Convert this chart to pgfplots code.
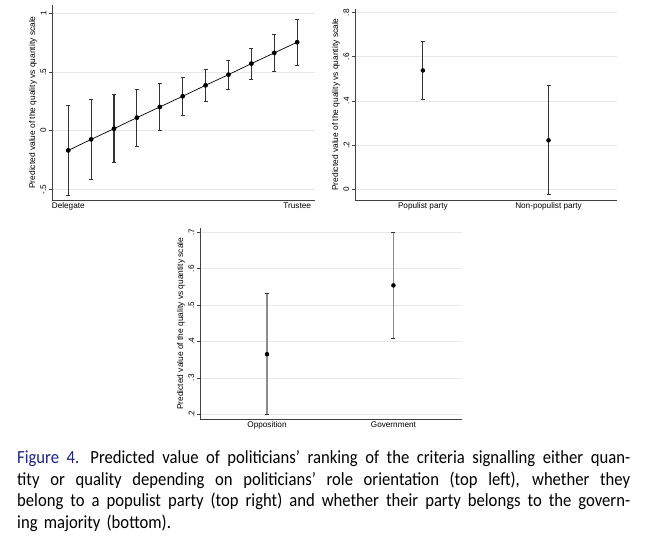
\documentclass[border=0pt]{standalone}
\usepackage{pgfplots}
\pgfplotsset{compat=1.18}
\usepackage{fontspec}
\setmainfont{Liberation Sans}
\newfontfamily\capfont[FakeStretch=0.9]{Carlito}
\definecolor{capblue}{RGB}{30,36,120}
\definecolor{gridgray}{RGB}{232,232,232}

\pgfplotsset{
  stata/.style={
    scale only axis,
    clip=false,
    axis x line*=bottom,
    axis y line*=left,
    axis line style={black!75, line width=0.8bp, -},
    ymajorgrids,
    grid style={gridgray, line width=0.6bp},
    xtick style={draw=none},
    ytick style={black!75, line width=0.6bp},
    tick align=outside,
    major tick length=3bp,
    tick label style={font=\fontsize{8.2bp}{9bp}\selectfont},
    yticklabel style={rotate=90, anchor=south, inner sep=2.5bp},
    xticklabel style={anchor=north, inner sep=0pt, yshift=0.5bp},
    ylabel={Predicted value of the quality vs quantity scale},
    every axis y label/.style={at={([xshift=-19bp]axis description cs:0,0.5)},
      rotate=90, anchor=center, font=\fontsize{8.4bp}{9bp}\selectfont},
  },
  ci/.style={
    black, mark=*, mark size=2bp,
    error bars/y dir=both,
    error bars/y explicit,
    error bars/error bar style={line width=1.1bp, #1},
    error bars/error mark options={rotate=90, line width=0.9bp, mark size=2bp, black!80},
  },
}

\pgfplotstableread{
x  y       ep     em
0  -0.168  0.387  0.383
1  -0.074  0.338  0.338
2   0.017  0.290  0.290
3   0.111  0.241  0.245
4   0.202  0.201  0.202
5   0.293  0.162  0.165
6   0.386  0.134  0.139
7   0.477  0.122  0.125
8   0.571  0.131  0.136
9   0.662  0.159  0.159
10  0.753  0.196  0.196
}\roletable

\pgfplotstableread{
x  y      ep     em
0  0.538  0.130  0.130
1  0.221  0.249  0.248
}\populisttable

\pgfplotstableread{
x  y      ep     em
0  0.365  0.166  0.165
1  0.554  0.146  0.146
}\majoritytable

\newcommand\capline[1]{\makebox[613bp][s]{\spaceskip=0.22em plus 1em minus 0.05em #1}}

\begin{document}
\begin{tikzpicture}[x=1bp, y=1bp]
\path[use as bounding box] (0,0) rectangle (647,537);

% top left: role orientation
\begin{axis}[stata,
  at={(52bp,337bp)}, anchor=south west,
  width=263bp, height=195bp,
  xmin=-0.71, xmax=10.78,
  ymin=-0.59, ymax=1.07,
  xtick={0,10}, xticklabels={Delegate,Trustee},
  ytick={-0.5,0,0.5,1}, yticklabels={-.5,0,.5,1},
]
\addplot[ci=black!80, line width=0.7bp]
  table[x=x, y=y, y error plus=ep, y error minus=em]{\roletable};
\end{axis}

% top right: populist party
\begin{axis}[stata,
  at={(355bp,337bp)}, anchor=south west,
  width=262bp, height=191bp,
  xmin=-0.54, xmax=1.545,
  ymin=-0.05, ymax=0.817,
  xtick={0,1}, xticklabels={Populist party,Non-populist party},
  ytick={0,0.2,0.4,0.6,0.8}, yticklabels={0,.2,.4,.6,.8},
]
\addplot[ci=black!80, only marks]
  table[x=x, y=y, y error plus=ep, y error minus=em]{\populisttable};
\end{axis}

% bottom: governing majority
\begin{axis}[stata,
  at={(200bp,117.7bp)}, anchor=south west,
  width=261.7bp, height=191bp,
  xmin=-0.53, xmax=1.54,
  ymin=0.186, ymax=0.711,
  xtick={0,1}, xticklabels={Opposition,Government},
  ytick={0.2,0.3,0.4,0.5,0.6,0.7}, yticklabels={.2,.3,.4,.5,.6,.7},
]
\addplot[ci=black!45, only marks]
  table[x=x, y=y, y error plus=ep, y error minus=em]{\majoritytable};
\end{axis}

\node[anchor=north west, inner sep=0pt, text width=613bp, align=left,
  font=\capfont\fontsize{18.5bp}{21.8bp}\selectfont]
  at (17,87) {%
  \capline{{\color{capblue}Figure 4.}\hspace{0.6em}Predicted value of politicians’ ranking of the criteria signalling either quan-}\\
  \capline{tity or quality depending on politicians’ role orientation (top left), whether they}\\
  \capline{belong to a populist party (top right) and whether their party belongs to the govern-}\\
  ing majority (bottom).};
\end{tikzpicture}
\end{document}
